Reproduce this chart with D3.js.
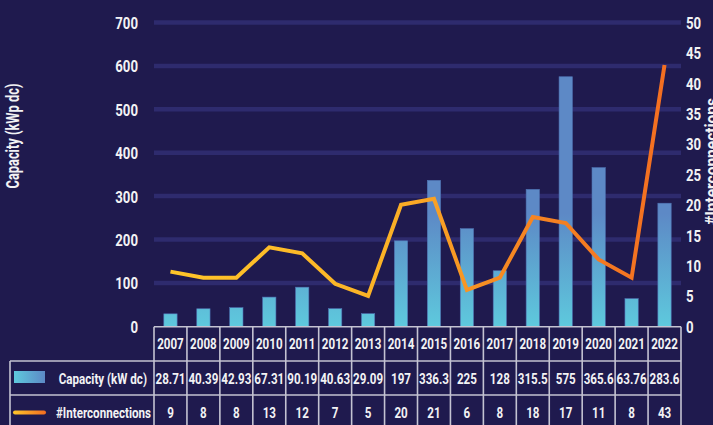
<!DOCTYPE html>
<html>
<head>
<meta charset="utf-8">
<script src="https://cdn.jsdelivr.net/npm/d3@7"></script>
<style>
html,body{margin:0;padding:0;background:#1f1a4e;}
svg{display:block;}
text{font-family:"Roboto","Noto Sans",sans-serif;font-weight:bold;fill:#f2f2f4;}
</style>
</head>
<body>
<svg id="chart" width="713" height="425"></svg>
<script>
const years = ["2007","2008","2009","2010","2011","2012","2013","2014","2015","2016","2017","2018","2019","2020","2021","2022"];
const capacity = [28.71,40.39,42.93,67.31,90.19,40.63,29.09,197,336.3,225,128,315.5,575,365.6,63.76,283.6];
const capacityLabels = ["28.71","40.39","42.93","67.31","90.19","40.63","29.09","197","336.3","225","128","315.5","575","365.6","63.76","283.6"];
const interconnections = [9,8,8,13,12,7,5,20,21,6,8,18,17,11,8,43];
const leftTicks = [0,100,200,300,400,500,600,700];
const rightTicks = [0,5,10,15,20,25,30,35,40,45,50];
const seriesNames = ["Capacity (kW dc)","#Interconnections"];
const axisTitles = ["Capacity (kWp dc)","#Interconnections"];

const W = 713, H = 425;
const plot = {left:154, right:681, top:22.5, bottom:326.3};
const svg = d3.select("#chart");
svg.append("rect").attr("width",W).attr("height",H).attr("fill","#1f1a4e");

const x = d3.scaleBand().domain(years).range([plot.left, plot.right]).paddingInner(0).paddingOuter(0);
const yL = d3.scaleLinear().domain([0,700]).range([plot.bottom, plot.top]);
const yR = d3.scaleLinear().domain([0,50]).range([plot.bottom, plot.top]);

const defs = svg.append("defs");
const bg = defs.append("linearGradient").attr("id","barGrad").attr("gradientUnits","userSpaceOnUse")
  .attr("x1",0).attr("x2",0).attr("y1",yL(0)).attr("y2",yL(260));
bg.append("stop").attr("offset","0%").attr("stop-color","#5ec9dd");
bg.append("stop").attr("offset","100%").attr("stop-color","#5d89c6");
const lg = defs.append("linearGradient").attr("id","lineGrad").attr("gradientUnits","userSpaceOnUse")
  .attr("x1",x("2007")).attr("x2",x("2022")+x.bandwidth()).attr("y1",0).attr("y2",0);
lg.append("stop").attr("offset","0%").attr("stop-color","#ffc72a");
lg.append("stop").attr("offset","45%").attr("stop-color","#fbb126");
lg.append("stop").attr("offset","65%").attr("stop-color","#f68a22");
lg.append("stop").attr("offset","100%").attr("stop-color","#f36c21");
const legBar = defs.append("linearGradient").attr("id","legBarGrad").attr("x1",0).attr("x2",1).attr("y1",0).attr("y2",0);
legBar.append("stop").attr("offset","0%").attr("stop-color","#5ec9dd");
legBar.append("stop").attr("offset","100%").attr("stop-color","#5d89c6");
const legLine = defs.append("linearGradient").attr("id","legLineGrad").attr("gradientUnits","userSpaceOnUse").attr("x1",13).attr("x2",46).attr("y1",0).attr("y2",0);
legLine.append("stop").attr("offset","0%").attr("stop-color","#ffc72a");
legLine.append("stop").attr("offset","100%").attr("stop-color","#f36c21");

// gridlines
svg.append("g").selectAll("line").data(leftTicks.filter(d=>d>0)).join("line")
  .attr("x1",plot.left).attr("x2",plot.right)
  .attr("y1",d=>yL(d)).attr("y2",d=>yL(d))
  .attr("stroke","#2e2b6e").attr("stroke-width",4.5);

// left axis
const axL = svg.append("g").attr("transform",`translate(${plot.left},0)`)
  .call(d3.axisLeft(yL).tickValues(leftTicks).tickSize(0).tickPadding(16).tickFormat(d3.format("d")));
axL.select(".domain").remove();
axL.attr("font-family",null).attr("font-size",null);
axL.selectAll("text").attr("font-size",16.5).attr("fill","#f2f2f4").attr("dy","0.36em");

// right axis
const axR = svg.append("g").attr("transform",`translate(${plot.right},0)`)
  .call(d3.axisRight(yR).tickValues(rightTicks).tickSize(0).tickPadding(5).tickFormat(d3.format("d")));
axR.select(".domain").remove();
axR.attr("font-family",null).attr("font-size",null);
axR.selectAll("text").attr("font-size",16.5).attr("fill","#f2f2f4").attr("dy","0.36em");

// bars
const bw = 13.3;
svg.append("g").selectAll("rect").data(years).join("rect")
  .attr("x",(d)=>x(d)+x.bandwidth()/2-bw/2)
  .attr("width",bw)
  .attr("y",(d,i)=>yL(capacity[i]))
  .attr("height",(d,i)=>yL(0)-yL(capacity[i]))
  .attr("fill","url(#barGrad)")
  .attr("stroke","#4f72b3").attr("stroke-width",0.6);

// line
const line = d3.line().x((d,i)=>x(years[i])+x.bandwidth()/2).y(d=>yR(d));
svg.append("path").datum(interconnections).attr("d",line)
  .attr("fill","none").attr("stroke","url(#lineGrad)").attr("stroke-width",4)
  .attr("stroke-linejoin","miter").attr("stroke-linecap","butt");

// axis titles
svg.append("text").attr("class","title").attr("data-len",105)
  .attr("transform","translate(18.5,136) rotate(-90)")
  .attr("text-anchor","middle").attr("font-size",18).text(axisTitles[0]);
svg.append("text").attr("class","title").attr("data-len",127)
  .attr("transform","translate(718,161.5) rotate(-90)")
  .attr("text-anchor","middle").attr("font-size",18).text(axisTitles[1]);

// table
const rowTop = [326.8, 361, 395];
const rowH = 34;
const tbl = svg.append("g");
const lineColor = "#c4c3d2";
const lw = 1.6;
tbl.append("line").attr("x1",plot.left).attr("x2",plot.right).attr("y1",rowTop[0]).attr("y2",rowTop[0]).attr("stroke",lineColor).attr("stroke-width",lw);
tbl.append("line").attr("x1",10).attr("x2",plot.right).attr("y1",rowTop[1]).attr("y2",rowTop[1]).attr("stroke",lineColor).attr("stroke-width",lw);
tbl.append("line").attr("x1",10).attr("x2",plot.right).attr("y1",rowTop[2]).attr("y2",rowTop[2]).attr("stroke",lineColor).attr("stroke-width",lw);
const bounds = years.map(d=>x(d)).concat([x(years[years.length-1])+x.bandwidth()]);
tbl.selectAll("line.v").data(bounds).join("line").attr("class","v")
  .attr("x1",d=>d).attr("x2",d=>d).attr("y1",rowTop[0]).attr("y2",H+5)
  .attr("stroke",lineColor).attr("stroke-width",lw);
tbl.append("line").attr("x1",10).attr("x2",10).attr("y1",rowTop[1]).attr("y2",H+5).attr("stroke",lineColor).attr("stroke-width",lw);

tbl.selectAll("text.yr").data(years).join("text").attr("class","yr")
  .attr("x",d=>x(d)+x.bandwidth()/2).attr("y",rowTop[0]+rowH/2).attr("dy","0.36em")
  .attr("text-anchor","middle").attr("font-size",14.5).text(d=>d);
tbl.selectAll("text.cap").data(capacityLabels).join("text").attr("class","cap")
  .attr("x",(d,i)=>x(years[i])+x.bandwidth()/2).attr("y",rowTop[1]+rowH/2+1).attr("dy","0.36em")
  .attr("text-anchor","middle").attr("font-size",14.5).text(d=>d);
tbl.selectAll("text.ic").data(interconnections).join("text").attr("class","ic")
  .attr("x",(d,i)=>x(years[i])+x.bandwidth()/2).attr("y",rowTop[2]+rowH/2+1).attr("dy","0.36em")
  .attr("text-anchor","middle").attr("font-size",14.5).text(d=>d);

tbl.append("rect").attr("x",14).attr("y",371).attr("width",31).attr("height",12).attr("fill","url(#legBarGrad)");
tbl.append("line").attr("x1",15).attr("x2",44).attr("y1",412.5).attr("y2",412.5)
  .attr("stroke","url(#legLineGrad)").attr("stroke-width",4).attr("stroke-linecap","round");
tbl.append("text").attr("x",147).attr("y",rowTop[1]+rowH/2+1).attr("dy","0.36em")
  .attr("text-anchor","end").attr("font-size",14.5).text(seriesNames[0]);
tbl.append("text").attr("x",151).attr("y",rowTop[2]+rowH/2+1).attr("dy","0.36em")
  .attr("text-anchor","end").attr("font-size",14.5).text(seriesNames[1]);

// condense all text (reference uses a condensed face)
svg.selectAll("text").each(function(){
  const t = d3.select(this);
  const fixed = t.attr("data-len");
  const len = fixed ? +fixed : this.getComputedTextLength()*0.8;
  t.attr("textLength", len).attr("lengthAdjust","spacingAndGlyphs");
});
</script>
</body>
</html>
